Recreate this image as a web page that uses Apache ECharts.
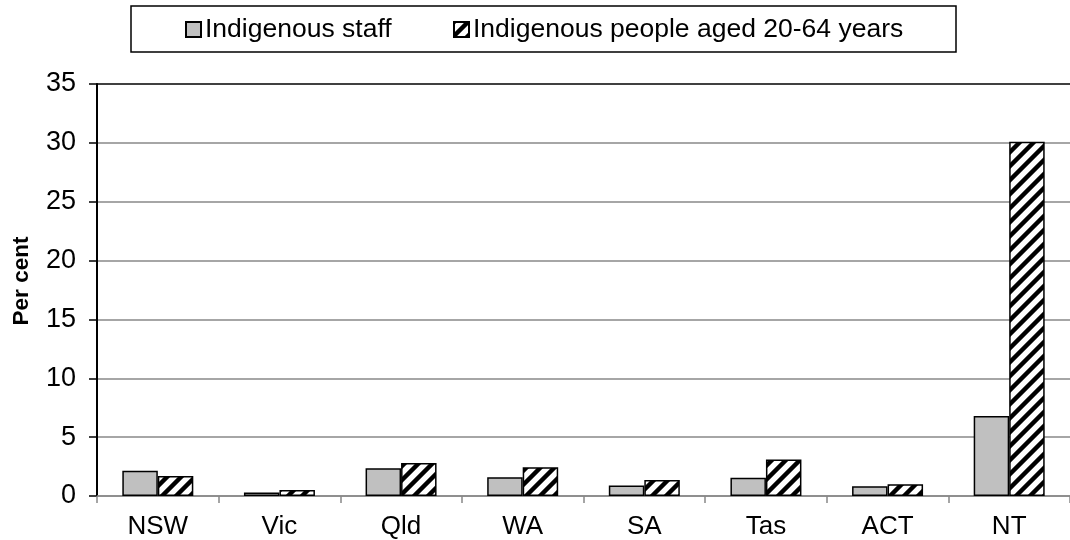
<!DOCTYPE html>
<html>
<head>
<meta charset="utf-8">
<script src="https://cdn.jsdelivr.net/npm/echarts@6/dist/echarts.min.js"></script>
<style>
html,body{margin:0;padding:0;background:#fff;}
#chart{width:1070px;height:540px;}
</style>
</head>
<body>
<div id="chart"></div>
<script>
const categories = ['NSW', 'Vic', 'Qld', 'WA', 'SA', 'Tas', 'ACT', 'NT'];
const staffValues = [2.15, 0.3, 2.35, 1.6, 0.9, 1.55, 0.82, 6.8];
const populationValues = [1.7, 0.5, 2.8, 2.45, 1.35, 3.1, 1.0, 30.1];
const seriesNames = ['Indigenous staff', 'Indigenous people aged 20-64 years'];
const yTicks = { min: 0, max: 35, interval: 5 };
const axisTitle = 'Per cent';

function hatch() {
  const w = 14, h = 14, k = 2;
  const c = document.createElement('canvas');
  c.width = w * k; c.height = h * k;
  const g = c.getContext('2d');
  g.scale(k, k);
  g.fillStyle = '#fff';
  g.fillRect(0, 0, w, h);
  g.strokeStyle = '#000';
  g.lineWidth = 4.4;
  for (const o of [-w, 0, w]) {
    g.beginPath();
    g.moveTo(o - w * 0.2, h * 1.2);
    g.lineTo(o + w * 1.2, -h * 0.2);
    g.stroke();
  }
  const c2 = document.createElement('canvas');
  c2.width = w; c2.height = h;
  c2.getContext('2d').drawImage(c, 0, 0, w, h);
  return c2;
}
const FONT = "'Liberation Sans', Arial, sans-serif";
const chart = echarts.init(document.getElementById('chart'), null, { renderer: 'canvas' });
const legendCommon = {
  top: 16, icon: 'rect',
  itemWidth: 15, itemHeight: 15, itemGap: 5, padding: 0,
  textStyle: { fontFamily: FONT, fontSize: 26.5, color: '#000', padding: [0, 0, 0, -1] }
};
const option = {
  animation: false,
  backgroundColor: '#fff',
  textStyle: { fontFamily: FONT, color: '#000' },
  graphic: [{
    type: 'rect',
    shape: { x: 131, y: 6, width: 825, height: 46 },
    style: { fill: '#fff', stroke: '#000', lineWidth: 1.5 },
    z: 0
  }],
  legend: [
    Object.assign({ data: [seriesNames[0]], left: 185 }, legendCommon),
    Object.assign({ data: [seriesNames[1]], left: 453 }, legendCommon)
  ],
  grid: { left: 97, right: -7, top: 84, bottom: 44, containLabel: false },
  xAxis: {
    type: 'category',
    data: categories,
    axisLine: { lineStyle: { color: '#888', width: 1.5 } },
    axisTick: { show: true, length: 7, lineStyle: { color: '#888', width: 1.5 } },
    axisLabel: { color: '#000', fontSize: 26, fontFamily: FONT, margin: 18 }
  },
  yAxis: {
    type: 'value',
    min: yTicks.min, max: yTicks.max, interval: yTicks.interval,
    name: axisTitle,
    nameLocation: 'middle',
    nameGap: 64,
    nameTextStyle: { fontFamily: FONT, fontSize: 22.5, fontWeight: 'bold', color: '#000', padding: [0, 0, 0, 18] },
    axisLine: { show: true, onZero: false, lineStyle: { color: '#000', width: 2 } },
    axisTick: { show: true, length: 8, lineStyle: { color: '#000', width: 1.5 } },
    axisLabel: { color: '#000', fontSize: 27, fontFamily: FONT, margin: 21 },
    splitLine: { show: true, lineStyle: { color: ['#888', '#888', '#888', '#888', '#888', '#888', '#888', '#000'], width: 1.5 } }
  },
  series: [{
    name: seriesNames[0],
    type: 'bar',
    data: staffValues,
    barWidth: 35.5,
    barGap: '0%',
    itemStyle: { color: '#c0c0c0', borderColor: '#000', borderWidth: 1.5 }
  }, {
    name: seriesNames[1],
    type: 'bar',
    data: populationValues,
    barWidth: 35.5,
    barGap: '0%',
    itemStyle: { color: { image: hatch(), repeat: 'repeat' }, borderColor: '#000', borderWidth: 1.5 }
  }]
};
chart.setOption(option);
</script>
</body>
</html>
